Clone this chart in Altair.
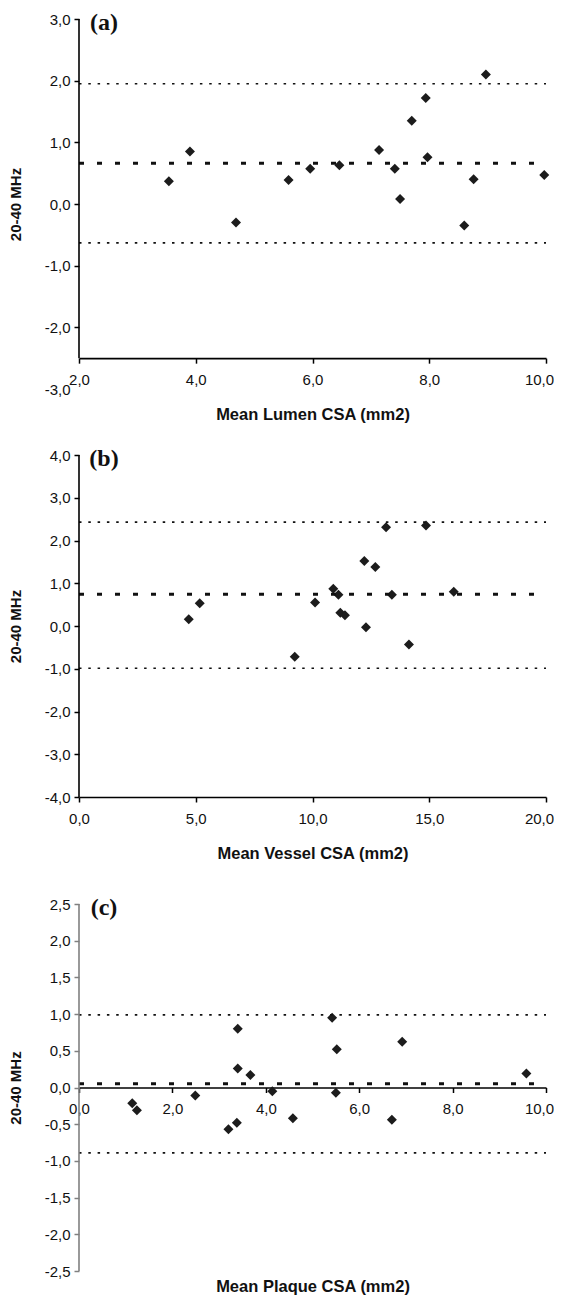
import altair as alt
import pandas as pd

# ---------------- data ----------------
# (a) Mean Lumen CSA
A_X = [3.54, 3.90, 4.69, 5.59, 5.96, 6.46, 7.14, 7.41, 7.50, 7.70, 7.94, 7.97, 8.60, 8.76, 8.97, 9.97]
A_Y = [0.37, 0.85, -0.30, 0.39, 0.57, 0.63, 0.875, 0.57, 0.08, 1.35, 1.72, 0.76, -0.35, 0.40, 2.10, 0.47]
A_MEAN, A_UPPER, A_LOWER = 0.66, 1.95, -0.63
A_XTICKS = [2, 4, 6, 8, 10]
A_YTICKS = [-3, -2, -1, 0, 1, 2, 3]

# (b) Mean Vessel CSA
B_X = [4.70, 5.17, 9.24, 10.11, 10.89, 11.11, 11.19, 11.39, 12.22, 12.29, 12.69, 13.15, 13.40, 14.13, 14.86, 16.05]
B_Y = [0.16, 0.53, -0.72, 0.55, 0.87, 0.73, 0.31, 0.25, 1.52, -0.03, 1.38, 2.31, 0.73, -0.43, 2.35, 0.80]
B_MEAN, B_UPPER, B_LOWER = 0.74, 2.43, -0.99
B_XTICKS = [0, 5, 10, 15, 20]
B_YTICKS = [-4, -3, -2, -1, 0, 1, 2, 3, 4]

# (c) Mean Plaque CSA
C_X = [1.14, 1.24, 2.49, 3.20, 3.38, 3.40, 3.40, 3.67, 4.14, 4.58, 5.42, 5.52, 5.50, 6.70, 6.92, 9.58]
C_Y = [-0.215, -0.31, -0.11, -0.57, -0.48, 0.80, 0.26, 0.17, -0.05, -0.42, 0.95, 0.52, -0.07, -0.44, 0.625, 0.19]
C_MEAN, C_UPPER, C_LOWER = 0.05, 0.99, -0.89
C_XTICKS = [0, 2, 4, 6, 8, 10]
C_YTICKS = [-2.5, -2.0, -1.5, -1.0, -0.5, 0.0, 0.5, 1.0, 1.5, 2.0, 2.5]

Y_TITLE = "20-40 MHz"
X_TITLES = ["Mean Lumen CSA (mm2)", "Mean Vessel CSA (mm2)", "Mean Plaque CSA (mm2)"]
TAGS = ["(a)", "(b)", "(c)"]

LABEL_EXPR = "(datum.value < 0 ? '-' : '') + replace(format(abs(datum.value), '.1f'), '.', ',')"
FONT = "Liberation Sans"
W = 467


def panel(xs, ys, mean, upper, lower, xdom, xticks, ydom, yticks, y_axis_bottom,
          x_axis_at, xtitle, tag, height, ycolor, title_y):
    xscale = alt.Scale(domain=xdom, nice=False, zero=False)
    yscale = alt.Scale(domain=ydom, nice=False, zero=False)
    offset = -height * (x_axis_at - ydom[0]) / (ydom[1] - ydom[0])

    xaxis = alt.Axis(
        values=xticks, tickCount=len(xticks) + 2, labelExpr=LABEL_EXPR, title=xtitle,
        offset=offset, grid=False,
        domainColor="#000", domainWidth=1.6, tickColor="#000", tickWidth=1.5, tickSize=5,
        labelPadding=9, labelFontSize=15, labelFont=FONT, labelColor="#111", labelFlush=False,
        labelOverlap=False,
        labelOffset={"condition": {"test": f"datum.value == {xdom[1]}", "value": -7}, "value": 0},
        titleFont=FONT, titleFontSize=16.5, titleFontWeight="bold", titleColor="#111",
        titleY=title_y, titleBaseline="middle",
    )
    yaxis = alt.Axis(
        values=yticks, tickCount=len(yticks) + 2, labelExpr=LABEL_EXPR, title=Y_TITLE,
        domain=False, grid=False,
        tickColor={"condition": {"test": f"datum.value < {y_axis_bottom - 0.01}", "value": "transparent"},
                   "value": ycolor},
        tickWidth=1.5, tickSize=5, labelPadding=4, labelFontSize=15, labelFont=FONT,
        labelColor="#111", labelOverlap=False, labelFlush=False,
        titleFont=FONT, titleFontSize=15, titleFontWeight="bold",
        titleColor="#111", titleX=-64, titleBaseline="middle",
    )

    pts = pd.DataFrame({"x": xs, "y": ys})
    lim = pd.DataFrame({"x": [xdom[0], xdom[0]], "x2": [xdom[1], xdom[1]], "y": [upper, lower]})
    mn = pd.DataFrame({"x": [xdom[0]], "x2": [xdom[1]], "y": [mean]})
    ax = pd.DataFrame({"x": [xdom[0]], "y": [y_axis_bottom], "y2": [ydom[1]]})
    tg = pd.DataFrame({"tag": [tag]})

    points = alt.Chart(pts).mark_point(shape="diamond", filled=True, size=100, color="#1c1c1c",
                                       opacity=1).encode(
        x=alt.X("x:Q", scale=xscale, axis=xaxis),
        y=alt.Y("y:Q", scale=yscale, axis=yaxis),
    )
    limits = alt.Chart(lim).mark_rule(strokeDash=[2.5, 6.8], strokeWidth=1.6, color="#111").encode(
        x=alt.X("x:Q", scale=xscale), x2="x2:Q", y=alt.Y("y:Q", scale=yscale))
    meanl = alt.Chart(mn).mark_rule(strokeDash=[5, 13], strokeWidth=3, color="#111").encode(
        x=alt.X("x:Q", scale=xscale), x2="x2:Q", y=alt.Y("y:Q", scale=yscale))
    yline = alt.Chart(ax).mark_rule(strokeWidth=1.6, color=ycolor).encode(
        x=alt.X("x:Q", scale=xscale), y=alt.Y("y:Q", scale=yscale), y2="y2:Q")
    label = alt.Chart(tg).mark_text(font="Liberation Serif", fontWeight="bold", fontSize=24,
                                    align="center", baseline="middle", color="#111").encode(
        x=alt.value(25), y=alt.value(4), text="tag:N")

    return alt.layer(points, limits, meanl, yline, label).properties(width=W, height=height)


pa = panel(A_X, A_Y, A_MEAN, A_UPPER, A_LOWER, [2, 10], A_XTICKS, [-3, 3], A_YTICKS, -2.5, -2.5,
           X_TITLES[0], TAGS[0], 370, "#000", 56)
pb = panel(B_X, B_Y, B_MEAN, B_UPPER, B_LOWER, [0, 20], B_XTICKS, [-4, 4], B_YTICKS, -4, -4,
           X_TITLES[1], TAGS[1], 342, "#000", 56)
pc = panel(C_X, C_Y, C_MEAN, C_UPPER, C_LOWER, [0, 10], C_XTICKS, [-2.5, 2.5], C_YTICKS, -2.5, 0,
           X_TITLES[2], TAGS[2], 367, "#808080", 199)

chart = alt.vconcat(alt.vconcat(pa, pb, spacing=24), pc, spacing=34).properties(
    padding={"top": 3, "left": 0, "right": 0, "bottom": 0},
    background="white",
).configure_view(strokeWidth=0, stroke="transparent")

chart.save("out.html", embed_options={"renderer": "svg", "actions": False})
